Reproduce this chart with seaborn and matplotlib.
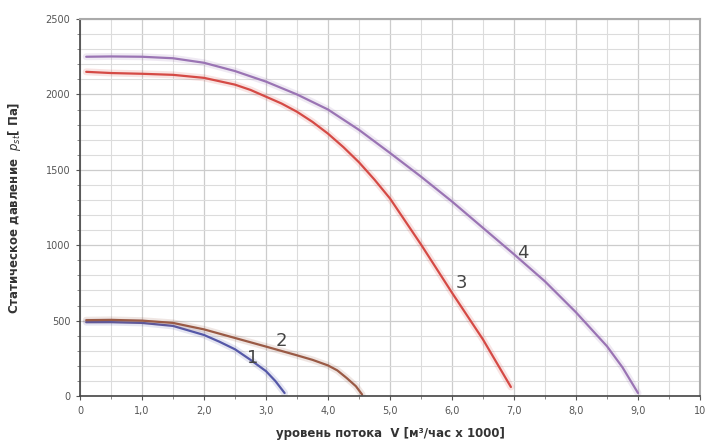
import matplotlib
matplotlib.use("Agg")
import matplotlib.pyplot as plt
import seaborn as sns
import pandas as pd
import numpy as np

# ---- data ----
curve1_x = [0.1, 0.5, 1.0, 1.5, 2.0, 2.25, 2.5, 2.75, 3.0, 3.15, 3.3]
curve1_y = [490, 490, 485, 465, 405, 360, 310, 240, 165, 100, 20]

curve2_x = [0.1, 0.5, 1.0, 1.5, 2.0, 2.5, 3.0, 3.5, 3.75, 4.0, 4.15, 4.3, 4.45, 4.55]
curve2_y = [503, 505, 500, 485, 442, 385, 328, 270, 240, 203, 170, 120, 65, 10]

curve3_x = [0.1, 0.5, 1.0, 1.5, 2.0, 2.5, 2.75, 3.0, 3.25, 3.5, 3.75, 4.0, 4.25, 4.5,
            4.75, 5.0, 5.5, 6.0, 6.5, 6.95]
curve3_y = [2150, 2142, 2137, 2130, 2110, 2065, 2030, 1985, 1940, 1885, 1818, 1740, 1650, 1550,
            1435, 1310, 1005, 685, 375, 60]

curve4_x = [0.1, 0.5, 1.0, 1.5, 2.0, 2.5, 3.0, 3.5, 4.0, 4.5, 5.0, 5.5, 6.0, 6.5, 7.0,
            7.5, 8.0, 8.5, 8.75, 9.0]
curve4_y = [2250, 2252, 2250, 2240, 2210, 2155, 2085, 2000, 1900, 1765, 1612, 1455, 1290, 1115, 940,
            760, 555, 330, 190, 20]

curve_names = ["1", "2", "3", "4"]
label_x = [2.79, 3.24, 6.16, 7.15]
label_y = [252, 365, 750, 948]

x_ticks = [0, 1, 2, 3, 4, 5, 6, 7, 8, 9, 10]
x_tick_labels = ["0", "1,0", "2,0", "3,0", "4,0", "5,0", "6,0", "7,0", "8,0", "9,0", "10"]
y_ticks = [0, 500, 1000, 1500, 2000, 2500]

colors = ["#5558a8", "#9a5a45", "#d54a45", "#9a74b4"]

sns.set_theme(style="white")
plt.rcParams['font.family'] = ['DejaVu Sans']

fig = plt.figure(figsize=(7.08, 4.43), dpi=100)
ax = fig.add_axes([0.113, 0.106, 0.8757, 0.851])

xs = [curve1_x, curve2_x, curve3_x, curve4_x]
ys = [curve1_y, curve2_y, curve3_y, curve4_y]
for name, x, y, c in zip(curve_names, xs, ys, colors):
    df = pd.DataFrame({"x": x, "y": y})
    # faint halo
    sns.lineplot(data=df, x="x", y="y", ax=ax, color=c, alpha=0.15, linewidth=5, sort=False)
    sns.lineplot(data=df, x="x", y="y", ax=ax, color=c, linewidth=1.6, sort=False)

for name, lx, ly in zip(curve_names, label_x, label_y):
    ax.text(lx, ly, name, fontsize=13, color="#444444", ha="center", va="center")

ax.set_xlim(0, 10)
ax.set_ylim(0, 2500)
ax.set_xticks(x_ticks)
ax.set_xticklabels(x_tick_labels)
ax.set_yticks(y_ticks)
ax.set_xticks(np.arange(0, 10.01, 0.5), minor=True)
ax.set_yticks(np.arange(0, 2501, 100), minor=True)
ax.grid(which="minor", color="#dcdcdc", linewidth=0.8)
ax.grid(which="major", color="#cccccc", linewidth=0.9)
ax.set_axisbelow(True)

ax.tick_params(axis="both", which="major", labelsize=7, labelcolor="#555555",
               length=3, width=0.8, color="#555555", direction="out", bottom=True, left=True, pad=4)
ax.tick_params(axis="both", which="minor", length=2, width=0.6, color="#777777",
               direction="out", bottom=True, left=True)

for side in ["left", "bottom"]:
    ax.spines[side].set_color("#444444")
    ax.spines[side].set_linewidth(1.2)
for side in ["top", "right"]:
    ax.spines[side].set_color("#aaaaaa")
    ax.spines[side].set_linewidth(1.5)

ax.set_xlabel("уровень потока  V [м³/час x 1000]", fontsize=8.5, fontweight="bold",
              color="#333333", labelpad=8)
ax.set_ylabel("Статическое давление  $p_{st}$[ Па]", fontsize=8.5, fontweight="bold",
              color="#333333", labelpad=16)

fig.savefig("out.png", dpi=100)
